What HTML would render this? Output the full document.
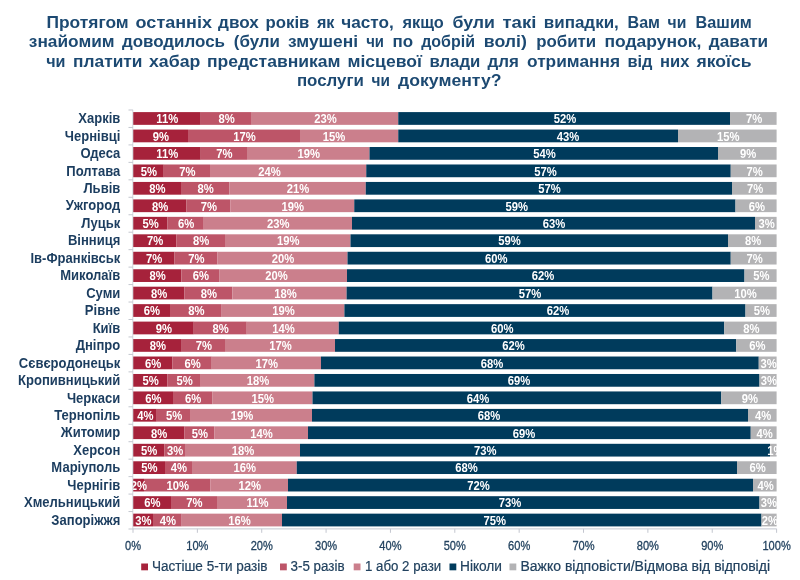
<!DOCTYPE html>
<html lang="uk"><head><meta charset="utf-8"><title>Хабарі представникам місцевої влади</title>
<style>
html,body{margin:0;padding:0;background:#fff}
body{width:800px;height:580px;overflow:hidden}
svg{display:block;font-family:"Liberation Sans",sans-serif}
.t{font-size:17px;font-weight:bold;fill:#1d4a72;text-anchor:start}
.c{font-size:14.1px;font-weight:bold;fill:#1b3d5f;text-anchor:end}
.d{font-size:12.5px;font-weight:bold;fill:#fff;text-anchor:middle}
.a{font-size:13.5px;fill:#22425f;stroke:#22425f;stroke-width:.3px;text-anchor:middle}
.l{font-size:14px;fill:#22425f;stroke:#22425f;stroke-width:.2px;text-anchor:start}
</style></head><body>
<svg width="800" height="580" viewBox="0 0 800 580">
<defs><filter id="soft" x="0" y="0" width="100%" height="100%"><feGaussianBlur stdDeviation="0.45"/></filter></defs>
<g filter="url(#soft)">
<rect width="800" height="580" fill="#fff"/>
<text class="t" y="27.9"><tspan x="46.5" textLength="82.2" lengthAdjust="spacingAndGlyphs">Протягом</tspan> <tspan x="135.6" textLength="76.4" lengthAdjust="spacingAndGlyphs">останніх</tspan> <tspan x="218.1" textLength="40.7" lengthAdjust="spacingAndGlyphs">двох</tspan> <tspan x="265.6" textLength="43.8" lengthAdjust="spacingAndGlyphs">років</tspan> <tspan x="316.9" textLength="17.5" lengthAdjust="spacingAndGlyphs">як</tspan> <tspan x="341.2" textLength="52.5" lengthAdjust="spacingAndGlyphs">часто,</tspan> <tspan x="402.5" textLength="41.2" lengthAdjust="spacingAndGlyphs">якщо</tspan> <tspan x="452.5" textLength="42.5" lengthAdjust="spacingAndGlyphs">були</tspan> <tspan x="502.5" textLength="33.8" lengthAdjust="spacingAndGlyphs">такі</tspan> <tspan x="543.8" textLength="75.0" lengthAdjust="spacingAndGlyphs">випадки,</tspan> <tspan x="627.5" textLength="32.5" lengthAdjust="spacingAndGlyphs">Вам</tspan> <tspan x="667.5" textLength="18.8" lengthAdjust="spacingAndGlyphs">чи</tspan> <tspan x="695.6" textLength="56.3" lengthAdjust="spacingAndGlyphs">Вашим</tspan></text>
<text class="t" y="47.0"><tspan x="28.8" textLength="85.8" lengthAdjust="spacingAndGlyphs">знайомим</tspan> <tspan x="121.9" textLength="103.1" lengthAdjust="spacingAndGlyphs">доводилось</tspan> <tspan x="233.8" textLength="46.2" lengthAdjust="spacingAndGlyphs">(були</tspan> <tspan x="288.1" textLength="70.0" lengthAdjust="spacingAndGlyphs">змушені</tspan> <tspan x="366.2" textLength="17.8" lengthAdjust="spacingAndGlyphs">чи</tspan> <tspan x="392.5" textLength="20.6" lengthAdjust="spacingAndGlyphs">по</tspan> <tspan x="421.2" textLength="53.8" lengthAdjust="spacingAndGlyphs">добрій</tspan> <tspan x="483.8" textLength="43.1" lengthAdjust="spacingAndGlyphs">волі)</tspan> <tspan x="536.2" textLength="60.0" lengthAdjust="spacingAndGlyphs">робити</tspan> <tspan x="604.4" textLength="96.9" lengthAdjust="spacingAndGlyphs">подарунок,</tspan> <tspan x="708.8" textLength="59.4" lengthAdjust="spacingAndGlyphs">давати</tspan></text>
<text class="t" y="66.8"><tspan x="46.2" textLength="19.3" lengthAdjust="spacingAndGlyphs">чи</tspan> <tspan x="73.1" textLength="69.4" lengthAdjust="spacingAndGlyphs">платити</tspan> <tspan x="149.0" textLength="51.3" lengthAdjust="spacingAndGlyphs">хабар</tspan> <tspan x="206.9" textLength="133.7" lengthAdjust="spacingAndGlyphs">представникам</tspan> <tspan x="347.5" textLength="74.4" lengthAdjust="spacingAndGlyphs">місцевої</tspan> <tspan x="429.4" textLength="50.9" lengthAdjust="spacingAndGlyphs">влади</tspan> <tspan x="487.4" textLength="31.4" lengthAdjust="spacingAndGlyphs">для</tspan> <tspan x="527.0" textLength="93.0" lengthAdjust="spacingAndGlyphs">отримання</tspan> <tspan x="627.5" textLength="25.0" lengthAdjust="spacingAndGlyphs">від</tspan> <tspan x="660.0" textLength="29.4" lengthAdjust="spacingAndGlyphs">них</tspan> <tspan x="696.5" textLength="55.0" lengthAdjust="spacingAndGlyphs">якоїсь</tspan></text>
<text class="t" y="85.7"><tspan x="296.9" textLength="66.9" lengthAdjust="spacingAndGlyphs">послуги</tspan> <tspan x="371.6" textLength="18.4" lengthAdjust="spacingAndGlyphs">чи</tspan> <tspan x="398.1" textLength="103.4" lengthAdjust="spacingAndGlyphs">документу?</tspan></text>
<rect x="133.00" y="112.10" width="67.75" height="12.75" fill="#a6243b"/>
<rect x="200.75" y="112.10" width="51.00" height="12.75" fill="#bd5568"/>
<rect x="251.75" y="112.10" width="146.50" height="12.75" fill="#cb7f8c"/>
<rect x="398.25" y="112.10" width="331.75" height="12.75" fill="#003a5c"/>
<rect x="730.00" y="112.10" width="46.60" height="12.75" fill="#b3b3b5"/>
<rect x="133.00" y="129.56" width="55.00" height="12.75" fill="#a6243b"/>
<rect x="188.00" y="129.56" width="112.00" height="12.75" fill="#bd5568"/>
<rect x="300.00" y="129.56" width="98.25" height="12.75" fill="#cb7f8c"/>
<rect x="398.25" y="129.56" width="279.75" height="12.75" fill="#003a5c"/>
<rect x="678.00" y="129.56" width="98.60" height="12.75" fill="#b3b3b5"/>
<rect x="133.00" y="147.02" width="67.75" height="12.75" fill="#a6243b"/>
<rect x="200.75" y="147.02" width="46.25" height="12.75" fill="#bd5568"/>
<rect x="247.00" y="147.02" width="122.50" height="12.75" fill="#cb7f8c"/>
<rect x="369.50" y="147.02" width="348.50" height="12.75" fill="#003a5c"/>
<rect x="718.00" y="147.02" width="58.60" height="12.75" fill="#b3b3b5"/>
<rect x="133.00" y="164.48" width="30.75" height="12.75" fill="#a6243b"/>
<rect x="163.75" y="164.48" width="46.25" height="12.75" fill="#bd5568"/>
<rect x="210.00" y="164.48" width="156.25" height="12.75" fill="#cb7f8c"/>
<rect x="366.25" y="164.48" width="364.50" height="12.75" fill="#003a5c"/>
<rect x="730.75" y="164.48" width="45.85" height="12.75" fill="#b3b3b5"/>
<rect x="133.00" y="181.94" width="48.00" height="12.75" fill="#a6243b"/>
<rect x="181.00" y="181.94" width="48.25" height="12.75" fill="#bd5568"/>
<rect x="229.25" y="181.94" width="136.50" height="12.75" fill="#cb7f8c"/>
<rect x="365.75" y="181.94" width="366.25" height="12.75" fill="#003a5c"/>
<rect x="732.00" y="181.94" width="44.60" height="12.75" fill="#b3b3b5"/>
<rect x="133.00" y="199.40" width="53.25" height="12.75" fill="#a6243b"/>
<rect x="186.25" y="199.40" width="44.25" height="12.75" fill="#bd5568"/>
<rect x="230.50" y="199.40" width="123.75" height="12.75" fill="#cb7f8c"/>
<rect x="354.25" y="199.40" width="381.25" height="12.75" fill="#003a5c"/>
<rect x="735.50" y="199.40" width="41.10" height="12.75" fill="#b3b3b5"/>
<rect x="133.00" y="216.85" width="34.50" height="12.75" fill="#a6243b"/>
<rect x="167.50" y="216.85" width="36.25" height="12.75" fill="#bd5568"/>
<rect x="203.75" y="216.85" width="148.25" height="12.75" fill="#cb7f8c"/>
<rect x="352.00" y="216.85" width="403.00" height="12.75" fill="#003a5c"/>
<rect x="755.00" y="216.85" width="21.60" height="12.75" fill="#b3b3b5"/>
<rect x="133.00" y="234.31" width="43.25" height="12.75" fill="#a6243b"/>
<rect x="176.25" y="234.31" width="48.75" height="12.75" fill="#bd5568"/>
<rect x="225.00" y="234.31" width="125.50" height="12.75" fill="#cb7f8c"/>
<rect x="350.50" y="234.31" width="377.50" height="12.75" fill="#003a5c"/>
<rect x="728.00" y="234.31" width="48.60" height="12.75" fill="#b3b3b5"/>
<rect x="133.00" y="251.77" width="41.50" height="12.75" fill="#a6243b"/>
<rect x="174.50" y="251.77" width="43.00" height="12.75" fill="#bd5568"/>
<rect x="217.50" y="251.77" width="130.00" height="12.75" fill="#cb7f8c"/>
<rect x="347.50" y="251.77" width="383.25" height="12.75" fill="#003a5c"/>
<rect x="730.75" y="251.77" width="45.85" height="12.75" fill="#b3b3b5"/>
<rect x="133.00" y="269.23" width="48.40" height="12.75" fill="#a6243b"/>
<rect x="181.40" y="269.23" width="38.20" height="12.75" fill="#bd5568"/>
<rect x="219.60" y="269.23" width="127.40" height="12.75" fill="#cb7f8c"/>
<rect x="347.00" y="269.23" width="397.50" height="12.75" fill="#003a5c"/>
<rect x="744.50" y="269.23" width="32.10" height="12.75" fill="#b3b3b5"/>
<rect x="133.00" y="286.69" width="51.30" height="12.75" fill="#a6243b"/>
<rect x="184.30" y="286.69" width="48.10" height="12.75" fill="#bd5568"/>
<rect x="232.40" y="286.69" width="114.20" height="12.75" fill="#cb7f8c"/>
<rect x="346.60" y="286.69" width="365.90" height="12.75" fill="#003a5c"/>
<rect x="712.50" y="286.69" width="64.10" height="12.75" fill="#b3b3b5"/>
<rect x="133.00" y="304.15" width="37.00" height="12.75" fill="#a6243b"/>
<rect x="170.00" y="304.15" width="51.70" height="12.75" fill="#bd5568"/>
<rect x="221.70" y="304.15" width="122.70" height="12.75" fill="#cb7f8c"/>
<rect x="344.40" y="304.15" width="401.10" height="12.75" fill="#003a5c"/>
<rect x="745.50" y="304.15" width="31.10" height="12.75" fill="#b3b3b5"/>
<rect x="133.00" y="321.60" width="60.75" height="12.75" fill="#a6243b"/>
<rect x="193.75" y="321.60" width="53.00" height="12.75" fill="#bd5568"/>
<rect x="246.75" y="321.60" width="92.00" height="12.75" fill="#cb7f8c"/>
<rect x="338.75" y="321.60" width="385.50" height="12.75" fill="#003a5c"/>
<rect x="724.25" y="321.60" width="52.35" height="12.75" fill="#b3b3b5"/>
<rect x="133.00" y="339.06" width="48.75" height="12.75" fill="#a6243b"/>
<rect x="181.75" y="339.06" width="43.25" height="12.75" fill="#bd5568"/>
<rect x="225.00" y="339.06" width="110.00" height="12.75" fill="#cb7f8c"/>
<rect x="335.00" y="339.06" width="401.25" height="12.75" fill="#003a5c"/>
<rect x="736.25" y="339.06" width="40.35" height="12.75" fill="#b3b3b5"/>
<rect x="133.00" y="356.52" width="39.50" height="12.75" fill="#a6243b"/>
<rect x="172.50" y="356.52" width="39.25" height="12.75" fill="#bd5568"/>
<rect x="211.75" y="356.52" width="109.25" height="12.75" fill="#cb7f8c"/>
<rect x="321.00" y="356.52" width="437.75" height="12.75" fill="#003a5c"/>
<rect x="758.75" y="356.52" width="17.85" height="12.75" fill="#b3b3b5"/>
<rect x="133.00" y="373.98" width="34.50" height="12.75" fill="#a6243b"/>
<rect x="167.50" y="373.98" width="33.25" height="12.75" fill="#bd5568"/>
<rect x="200.75" y="373.98" width="113.65" height="12.75" fill="#cb7f8c"/>
<rect x="314.40" y="373.98" width="445.10" height="12.75" fill="#003a5c"/>
<rect x="759.50" y="373.98" width="17.10" height="12.75" fill="#b3b3b5"/>
<rect x="133.00" y="391.44" width="40.00" height="12.75" fill="#a6243b"/>
<rect x="173.00" y="391.44" width="39.20" height="12.75" fill="#bd5568"/>
<rect x="212.20" y="391.44" width="100.30" height="12.75" fill="#cb7f8c"/>
<rect x="312.50" y="391.44" width="408.75" height="12.75" fill="#003a5c"/>
<rect x="721.25" y="391.44" width="55.35" height="12.75" fill="#b3b3b5"/>
<rect x="133.00" y="408.90" width="23.75" height="12.75" fill="#a6243b"/>
<rect x="156.75" y="408.90" width="34.00" height="12.75" fill="#bd5568"/>
<rect x="190.75" y="408.90" width="121.25" height="12.75" fill="#cb7f8c"/>
<rect x="312.00" y="408.90" width="436.00" height="12.75" fill="#003a5c"/>
<rect x="748.00" y="408.90" width="28.60" height="12.75" fill="#b3b3b5"/>
<rect x="133.00" y="426.35" width="51.50" height="12.75" fill="#a6243b"/>
<rect x="184.50" y="426.35" width="29.75" height="12.75" fill="#bd5568"/>
<rect x="214.25" y="426.35" width="93.75" height="12.75" fill="#cb7f8c"/>
<rect x="308.00" y="426.35" width="442.75" height="12.75" fill="#003a5c"/>
<rect x="750.75" y="426.35" width="25.85" height="12.75" fill="#b3b3b5"/>
<rect x="133.00" y="443.81" width="31.50" height="12.75" fill="#a6243b"/>
<rect x="164.50" y="443.81" width="20.50" height="12.75" fill="#bd5568"/>
<rect x="185.00" y="443.81" width="115.00" height="12.75" fill="#cb7f8c"/>
<rect x="300.00" y="443.81" width="470.00" height="12.75" fill="#003a5c"/>
<rect x="770.00" y="443.81" width="6.60" height="12.75" fill="#b3b3b5"/>
<rect x="133.00" y="461.27" width="32.00" height="12.75" fill="#a6243b"/>
<rect x="165.00" y="461.27" width="27.00" height="12.75" fill="#bd5568"/>
<rect x="192.00" y="461.27" width="104.75" height="12.75" fill="#cb7f8c"/>
<rect x="296.75" y="461.27" width="440.25" height="12.75" fill="#003a5c"/>
<rect x="737.00" y="461.27" width="39.60" height="12.75" fill="#b3b3b5"/>
<rect x="133.00" y="478.73" width="11.00" height="12.75" fill="#a6243b"/>
<rect x="144.00" y="478.73" width="66.50" height="12.75" fill="#bd5568"/>
<rect x="210.50" y="478.73" width="77.50" height="12.75" fill="#cb7f8c"/>
<rect x="288.00" y="478.73" width="465.00" height="12.75" fill="#003a5c"/>
<rect x="753.00" y="478.73" width="23.60" height="12.75" fill="#b3b3b5"/>
<rect x="133.00" y="496.19" width="38.00" height="12.75" fill="#a6243b"/>
<rect x="171.00" y="496.19" width="46.00" height="12.75" fill="#bd5568"/>
<rect x="217.00" y="496.19" width="70.00" height="12.75" fill="#cb7f8c"/>
<rect x="287.00" y="496.19" width="472.50" height="12.75" fill="#003a5c"/>
<rect x="759.50" y="496.19" width="17.10" height="12.75" fill="#b3b3b5"/>
<rect x="133.00" y="513.65" width="20.00" height="12.75" fill="#a6243b"/>
<rect x="153.00" y="513.65" width="28.70" height="12.75" fill="#bd5568"/>
<rect x="181.70" y="513.65" width="100.30" height="12.75" fill="#cb7f8c"/>
<rect x="282.00" y="513.65" width="479.50" height="12.75" fill="#003a5c"/>
<rect x="761.50" y="513.65" width="15.10" height="12.75" fill="#b3b3b5"/>
<text class="c" x="120.3" y="123.18" textLength="42.07" lengthAdjust="spacingAndGlyphs">Харків</text>
<text class="d" x="167.28" y="123.28" textLength="21.91" lengthAdjust="spacingAndGlyphs">11%</text>
<text class="d" x="226.75" y="123.28" textLength="16.27" lengthAdjust="spacingAndGlyphs">8%</text>
<text class="d" x="325.50" y="123.28" textLength="22.53" lengthAdjust="spacingAndGlyphs">23%</text>
<text class="d" x="565.00" y="123.28" textLength="22.53" lengthAdjust="spacingAndGlyphs">52%</text>
<text class="d" x="754.20" y="123.28" textLength="16.27" lengthAdjust="spacingAndGlyphs">7%</text>
<text class="c" x="120.3" y="140.64" textLength="55.53" lengthAdjust="spacingAndGlyphs">Чернівці</text>
<text class="d" x="160.90" y="140.74" textLength="16.27" lengthAdjust="spacingAndGlyphs">9%</text>
<text class="d" x="244.50" y="140.74" textLength="22.53" lengthAdjust="spacingAndGlyphs">17%</text>
<text class="d" x="334.00" y="140.74" textLength="22.53" lengthAdjust="spacingAndGlyphs">15%</text>
<text class="d" x="567.90" y="140.74" textLength="22.53" lengthAdjust="spacingAndGlyphs">43%</text>
<text class="d" x="728.20" y="140.74" textLength="22.53" lengthAdjust="spacingAndGlyphs">15%</text>
<text class="c" x="120.3" y="158.10" textLength="39.83" lengthAdjust="spacingAndGlyphs">Одеса</text>
<text class="d" x="167.28" y="158.20" textLength="21.91" lengthAdjust="spacingAndGlyphs">11%</text>
<text class="d" x="224.38" y="158.20" textLength="16.27" lengthAdjust="spacingAndGlyphs">7%</text>
<text class="d" x="308.75" y="158.20" textLength="22.53" lengthAdjust="spacingAndGlyphs">19%</text>
<text class="d" x="544.50" y="158.20" textLength="22.53" lengthAdjust="spacingAndGlyphs">54%</text>
<text class="d" x="748.20" y="158.20" textLength="16.27" lengthAdjust="spacingAndGlyphs">9%</text>
<text class="c" x="120.3" y="175.55" textLength="54.03" lengthAdjust="spacingAndGlyphs">Полтава</text>
<text class="d" x="148.78" y="175.65" textLength="16.27" lengthAdjust="spacingAndGlyphs">5%</text>
<text class="d" x="187.38" y="175.65" textLength="16.27" lengthAdjust="spacingAndGlyphs">7%</text>
<text class="d" x="269.40" y="175.65" textLength="22.53" lengthAdjust="spacingAndGlyphs">24%</text>
<text class="d" x="545.60" y="175.65" textLength="22.53" lengthAdjust="spacingAndGlyphs">57%</text>
<text class="d" x="754.57" y="175.65" textLength="16.27" lengthAdjust="spacingAndGlyphs">7%</text>
<text class="c" x="120.3" y="193.01" textLength="36.83" lengthAdjust="spacingAndGlyphs">Львів</text>
<text class="d" x="157.40" y="193.11" textLength="16.27" lengthAdjust="spacingAndGlyphs">8%</text>
<text class="d" x="205.62" y="193.11" textLength="16.27" lengthAdjust="spacingAndGlyphs">8%</text>
<text class="d" x="298.00" y="193.11" textLength="22.53" lengthAdjust="spacingAndGlyphs">21%</text>
<text class="d" x="549.40" y="193.11" textLength="22.53" lengthAdjust="spacingAndGlyphs">57%</text>
<text class="d" x="755.20" y="193.11" textLength="16.27" lengthAdjust="spacingAndGlyphs">7%</text>
<text class="c" x="120.3" y="210.47" textLength="54.44" lengthAdjust="spacingAndGlyphs">Ужгород</text>
<text class="d" x="160.03" y="210.57" textLength="16.27" lengthAdjust="spacingAndGlyphs">8%</text>
<text class="d" x="208.88" y="210.57" textLength="16.27" lengthAdjust="spacingAndGlyphs">7%</text>
<text class="d" x="292.88" y="210.57" textLength="22.53" lengthAdjust="spacingAndGlyphs">19%</text>
<text class="d" x="516.75" y="210.57" textLength="22.53" lengthAdjust="spacingAndGlyphs">59%</text>
<text class="d" x="756.95" y="210.57" textLength="16.27" lengthAdjust="spacingAndGlyphs">6%</text>
<text class="c" x="120.3" y="227.93" textLength="38.95" lengthAdjust="spacingAndGlyphs">Луцьк</text>
<text class="d" x="150.65" y="228.03" textLength="16.27" lengthAdjust="spacingAndGlyphs">5%</text>
<text class="d" x="186.12" y="228.03" textLength="16.27" lengthAdjust="spacingAndGlyphs">6%</text>
<text class="d" x="278.38" y="228.03" textLength="22.53" lengthAdjust="spacingAndGlyphs">23%</text>
<text class="d" x="554.00" y="228.03" textLength="22.53" lengthAdjust="spacingAndGlyphs">63%</text>
<text class="d" x="766.70" y="228.03" textLength="16.27" lengthAdjust="spacingAndGlyphs">3%</text>
<text class="c" x="120.3" y="245.39" textLength="52.42" lengthAdjust="spacingAndGlyphs">Вінниця</text>
<text class="d" x="155.03" y="245.49" textLength="16.27" lengthAdjust="spacingAndGlyphs">7%</text>
<text class="d" x="201.12" y="245.49" textLength="16.27" lengthAdjust="spacingAndGlyphs">8%</text>
<text class="d" x="288.25" y="245.49" textLength="22.53" lengthAdjust="spacingAndGlyphs">19%</text>
<text class="d" x="509.60" y="245.49" textLength="22.53" lengthAdjust="spacingAndGlyphs">59%</text>
<text class="d" x="753.20" y="245.49" textLength="16.27" lengthAdjust="spacingAndGlyphs">8%</text>
<text class="c" x="120.3" y="262.85" textLength="89.83" lengthAdjust="spacingAndGlyphs">Ів-Франківськ</text>
<text class="d" x="154.15" y="262.95" textLength="16.27" lengthAdjust="spacingAndGlyphs">7%</text>
<text class="d" x="196.50" y="262.95" textLength="16.27" lengthAdjust="spacingAndGlyphs">7%</text>
<text class="d" x="283.00" y="262.95" textLength="22.53" lengthAdjust="spacingAndGlyphs">20%</text>
<text class="d" x="496.25" y="262.95" textLength="22.53" lengthAdjust="spacingAndGlyphs">60%</text>
<text class="d" x="754.57" y="262.95" textLength="16.27" lengthAdjust="spacingAndGlyphs">7%</text>
<text class="c" x="120.3" y="280.30" textLength="60.08" lengthAdjust="spacingAndGlyphs">Миколаїв</text>
<text class="d" x="157.60" y="280.40" textLength="16.27" lengthAdjust="spacingAndGlyphs">8%</text>
<text class="d" x="201.00" y="280.40" textLength="16.27" lengthAdjust="spacingAndGlyphs">6%</text>
<text class="d" x="276.50" y="280.40" textLength="22.53" lengthAdjust="spacingAndGlyphs">20%</text>
<text class="d" x="542.90" y="280.40" textLength="22.53" lengthAdjust="spacingAndGlyphs">62%</text>
<text class="d" x="761.45" y="280.40" textLength="16.27" lengthAdjust="spacingAndGlyphs">5%</text>
<text class="c" x="120.3" y="297.76" textLength="34.15" lengthAdjust="spacingAndGlyphs">Суми</text>
<text class="d" x="159.05" y="297.86" textLength="16.27" lengthAdjust="spacingAndGlyphs">8%</text>
<text class="d" x="208.85" y="297.86" textLength="16.27" lengthAdjust="spacingAndGlyphs">8%</text>
<text class="d" x="285.40" y="297.86" textLength="22.53" lengthAdjust="spacingAndGlyphs">18%</text>
<text class="d" x="530.00" y="297.86" textLength="22.53" lengthAdjust="spacingAndGlyphs">57%</text>
<text class="d" x="745.45" y="297.86" textLength="22.53" lengthAdjust="spacingAndGlyphs">10%</text>
<text class="c" x="120.3" y="315.22" textLength="35.47" lengthAdjust="spacingAndGlyphs">Рівне</text>
<text class="d" x="151.90" y="315.32" textLength="16.27" lengthAdjust="spacingAndGlyphs">6%</text>
<text class="d" x="196.35" y="315.32" textLength="16.27" lengthAdjust="spacingAndGlyphs">8%</text>
<text class="d" x="283.55" y="315.32" textLength="22.53" lengthAdjust="spacingAndGlyphs">19%</text>
<text class="d" x="557.90" y="315.32" textLength="22.53" lengthAdjust="spacingAndGlyphs">62%</text>
<text class="d" x="761.95" y="315.32" textLength="16.27" lengthAdjust="spacingAndGlyphs">5%</text>
<text class="c" x="120.3" y="332.68" textLength="27.66" lengthAdjust="spacingAndGlyphs">Київ</text>
<text class="d" x="163.78" y="332.78" textLength="16.27" lengthAdjust="spacingAndGlyphs">9%</text>
<text class="d" x="220.75" y="332.78" textLength="16.27" lengthAdjust="spacingAndGlyphs">8%</text>
<text class="d" x="283.40" y="332.78" textLength="22.53" lengthAdjust="spacingAndGlyphs">14%</text>
<text class="d" x="502.25" y="332.78" textLength="22.53" lengthAdjust="spacingAndGlyphs">60%</text>
<text class="d" x="751.32" y="332.78" textLength="16.27" lengthAdjust="spacingAndGlyphs">8%</text>
<text class="c" x="120.3" y="350.14" textLength="44.59" lengthAdjust="spacingAndGlyphs">Дніпро</text>
<text class="d" x="157.78" y="350.24" textLength="16.27" lengthAdjust="spacingAndGlyphs">8%</text>
<text class="d" x="203.88" y="350.24" textLength="16.27" lengthAdjust="spacingAndGlyphs">7%</text>
<text class="d" x="280.50" y="350.24" textLength="22.53" lengthAdjust="spacingAndGlyphs">17%</text>
<text class="d" x="513.40" y="350.24" textLength="22.53" lengthAdjust="spacingAndGlyphs">62%</text>
<text class="d" x="757.32" y="350.24" textLength="16.27" lengthAdjust="spacingAndGlyphs">6%</text>
<text class="c" x="120.3" y="367.60" textLength="101.50" lengthAdjust="spacingAndGlyphs">Сєвєродонецьк</text>
<text class="d" x="153.15" y="367.70" textLength="16.27" lengthAdjust="spacingAndGlyphs">6%</text>
<text class="d" x="192.62" y="367.70" textLength="16.27" lengthAdjust="spacingAndGlyphs">6%</text>
<text class="d" x="266.88" y="367.70" textLength="22.53" lengthAdjust="spacingAndGlyphs">17%</text>
<text class="d" x="492.10" y="367.70" textLength="22.53" lengthAdjust="spacingAndGlyphs">68%</text>
<text class="d" x="768.57" y="367.70" textLength="16.27" lengthAdjust="spacingAndGlyphs">3%</text>
<text class="c" x="120.3" y="385.05" textLength="102.27" lengthAdjust="spacingAndGlyphs">Кропивницький</text>
<text class="d" x="150.65" y="385.15" textLength="16.27" lengthAdjust="spacingAndGlyphs">5%</text>
<text class="d" x="184.62" y="385.15" textLength="16.27" lengthAdjust="spacingAndGlyphs">5%</text>
<text class="d" x="258.07" y="385.15" textLength="22.53" lengthAdjust="spacingAndGlyphs">18%</text>
<text class="d" x="519.10" y="385.15" textLength="22.53" lengthAdjust="spacingAndGlyphs">69%</text>
<text class="d" x="768.95" y="385.15" textLength="16.27" lengthAdjust="spacingAndGlyphs">3%</text>
<text class="c" x="120.3" y="402.51" textLength="53.42" lengthAdjust="spacingAndGlyphs">Черкаси</text>
<text class="d" x="153.40" y="402.61" textLength="16.27" lengthAdjust="spacingAndGlyphs">6%</text>
<text class="d" x="193.10" y="402.61" textLength="16.27" lengthAdjust="spacingAndGlyphs">6%</text>
<text class="d" x="262.85" y="402.61" textLength="22.53" lengthAdjust="spacingAndGlyphs">15%</text>
<text class="d" x="477.90" y="402.61" textLength="22.53" lengthAdjust="spacingAndGlyphs">64%</text>
<text class="d" x="749.82" y="402.61" textLength="16.27" lengthAdjust="spacingAndGlyphs">9%</text>
<text class="c" x="120.3" y="419.97" textLength="66.17" lengthAdjust="spacingAndGlyphs">Тернопіль</text>
<text class="d" x="145.28" y="420.07" textLength="16.27" lengthAdjust="spacingAndGlyphs">4%</text>
<text class="d" x="174.25" y="420.07" textLength="16.27" lengthAdjust="spacingAndGlyphs">5%</text>
<text class="d" x="242.10" y="420.07" textLength="22.53" lengthAdjust="spacingAndGlyphs">19%</text>
<text class="d" x="489.10" y="420.07" textLength="22.53" lengthAdjust="spacingAndGlyphs">68%</text>
<text class="d" x="763.20" y="420.07" textLength="16.27" lengthAdjust="spacingAndGlyphs">4%</text>
<text class="c" x="120.3" y="437.43" textLength="59.43" lengthAdjust="spacingAndGlyphs">Житомир</text>
<text class="d" x="159.15" y="437.53" textLength="16.27" lengthAdjust="spacingAndGlyphs">8%</text>
<text class="d" x="199.88" y="437.53" textLength="16.27" lengthAdjust="spacingAndGlyphs">5%</text>
<text class="d" x="261.62" y="437.53" textLength="22.53" lengthAdjust="spacingAndGlyphs">14%</text>
<text class="d" x="524.00" y="437.53" textLength="22.53" lengthAdjust="spacingAndGlyphs">69%</text>
<text class="d" x="764.57" y="437.53" textLength="16.27" lengthAdjust="spacingAndGlyphs">4%</text>
<text class="c" x="120.3" y="454.89" textLength="47.00" lengthAdjust="spacingAndGlyphs">Херсон</text>
<text class="d" x="149.15" y="454.99" textLength="16.27" lengthAdjust="spacingAndGlyphs">5%</text>
<text class="d" x="175.25" y="454.99" textLength="16.27" lengthAdjust="spacingAndGlyphs">3%</text>
<text class="d" x="243.00" y="454.99" textLength="22.53" lengthAdjust="spacingAndGlyphs">18%</text>
<text class="d" x="485.25" y="454.99" textLength="22.53" lengthAdjust="spacingAndGlyphs">73%</text>
<text class="d" x="775.50" y="454.99" textLength="16.27" lengthAdjust="spacingAndGlyphs">1%</text>
<text class="c" x="120.3" y="472.35" textLength="68.93" lengthAdjust="spacingAndGlyphs">Маріуполь</text>
<text class="d" x="149.40" y="472.45" textLength="16.27" lengthAdjust="spacingAndGlyphs">5%</text>
<text class="d" x="179.00" y="472.45" textLength="16.27" lengthAdjust="spacingAndGlyphs">4%</text>
<text class="d" x="244.88" y="472.45" textLength="22.53" lengthAdjust="spacingAndGlyphs">16%</text>
<text class="d" x="466.50" y="472.45" textLength="22.53" lengthAdjust="spacingAndGlyphs">68%</text>
<text class="d" x="757.70" y="472.45" textLength="16.27" lengthAdjust="spacingAndGlyphs">6%</text>
<text class="c" x="120.3" y="489.80" textLength="52.94" lengthAdjust="spacingAndGlyphs">Чернігів</text>
<text class="d" x="138.90" y="489.90" textLength="16.27" lengthAdjust="spacingAndGlyphs">2%</text>
<text class="d" x="177.75" y="489.90" textLength="22.53" lengthAdjust="spacingAndGlyphs">10%</text>
<text class="d" x="249.75" y="489.90" textLength="22.53" lengthAdjust="spacingAndGlyphs">12%</text>
<text class="d" x="478.50" y="489.90" textLength="22.53" lengthAdjust="spacingAndGlyphs">72%</text>
<text class="d" x="765.70" y="489.90" textLength="16.27" lengthAdjust="spacingAndGlyphs">4%</text>
<text class="c" x="120.3" y="507.26" textLength="96.36" lengthAdjust="spacingAndGlyphs">Хмельницький</text>
<text class="d" x="152.40" y="507.36" textLength="16.27" lengthAdjust="spacingAndGlyphs">6%</text>
<text class="d" x="194.50" y="507.36" textLength="16.27" lengthAdjust="spacingAndGlyphs">7%</text>
<text class="d" x="257.50" y="507.36" textLength="21.91" lengthAdjust="spacingAndGlyphs">11%</text>
<text class="d" x="510.00" y="507.36" textLength="22.53" lengthAdjust="spacingAndGlyphs">73%</text>
<text class="d" x="768.95" y="507.36" textLength="16.27" lengthAdjust="spacingAndGlyphs">3%</text>
<text class="c" x="120.3" y="524.72" textLength="68.94" lengthAdjust="spacingAndGlyphs">Запоріжжя</text>
<text class="d" x="143.40" y="524.82" textLength="16.27" lengthAdjust="spacingAndGlyphs">3%</text>
<text class="d" x="167.85" y="524.82" textLength="16.27" lengthAdjust="spacingAndGlyphs">4%</text>
<text class="d" x="239.60" y="524.82" textLength="22.53" lengthAdjust="spacingAndGlyphs">16%</text>
<text class="d" x="494.75" y="524.82" textLength="22.53" lengthAdjust="spacingAndGlyphs">75%</text>
<text class="d" x="769.95" y="524.82" textLength="16.27" lengthAdjust="spacingAndGlyphs">2%</text>
<g stroke="#c3c6cf" stroke-width="1" fill="none">
<path stroke="#d3d6dc" d="M132.8 109.8V528.8"/>
<path d="M132.8 528.9H776.6"/>
<path stroke="#bcc1ca" stroke-width=".9" d="M128.5 110.00H132.8"/>
<path stroke="#bcc1ca" stroke-width=".9" d="M128.5 127.46H132.8"/>
<path stroke="#bcc1ca" stroke-width=".9" d="M128.5 144.92H132.8"/>
<path stroke="#bcc1ca" stroke-width=".9" d="M128.5 162.38H132.8"/>
<path stroke="#bcc1ca" stroke-width=".9" d="M128.5 179.83H132.8"/>
<path stroke="#bcc1ca" stroke-width=".9" d="M128.5 197.29H132.8"/>
<path stroke="#bcc1ca" stroke-width=".9" d="M128.5 214.75H132.8"/>
<path stroke="#bcc1ca" stroke-width=".9" d="M128.5 232.21H132.8"/>
<path stroke="#bcc1ca" stroke-width=".9" d="M128.5 249.67H132.8"/>
<path stroke="#bcc1ca" stroke-width=".9" d="M128.5 267.12H132.8"/>
<path stroke="#bcc1ca" stroke-width=".9" d="M128.5 284.58H132.8"/>
<path stroke="#bcc1ca" stroke-width=".9" d="M128.5 302.04H132.8"/>
<path stroke="#bcc1ca" stroke-width=".9" d="M128.5 319.50H132.8"/>
<path stroke="#bcc1ca" stroke-width=".9" d="M128.5 336.96H132.8"/>
<path stroke="#bcc1ca" stroke-width=".9" d="M128.5 354.42H132.8"/>
<path stroke="#bcc1ca" stroke-width=".9" d="M128.5 371.88H132.8"/>
<path stroke="#bcc1ca" stroke-width=".9" d="M128.5 389.33H132.8"/>
<path stroke="#bcc1ca" stroke-width=".9" d="M128.5 406.79H132.8"/>
<path stroke="#bcc1ca" stroke-width=".9" d="M128.5 424.25H132.8"/>
<path stroke="#bcc1ca" stroke-width=".9" d="M128.5 441.71H132.8"/>
<path stroke="#bcc1ca" stroke-width=".9" d="M128.5 459.17H132.8"/>
<path stroke="#bcc1ca" stroke-width=".9" d="M128.5 476.62H132.8"/>
<path stroke="#bcc1ca" stroke-width=".9" d="M128.5 494.08H132.8"/>
<path stroke="#bcc1ca" stroke-width=".9" d="M128.5 511.54H132.8"/>
<path stroke="#bcc1ca" stroke-width=".9" d="M128.5 529.00H132.8"/>
<path d="M133.00 528.8V532.8"/>
<path d="M197.36 528.8V532.8"/>
<path d="M261.72 528.8V532.8"/>
<path d="M326.08 528.8V532.8"/>
<path d="M390.44 528.8V532.8"/>
<path d="M454.80 528.8V532.8"/>
<path d="M519.16 528.8V532.8"/>
<path d="M583.52 528.8V532.8"/>
<path d="M647.88 528.8V532.8"/>
<path d="M712.24 528.8V532.8"/>
<path d="M776.60 528.8V532.8"/>
</g>
<text class="a" x="133.00" y="550.3" textLength="16.00" lengthAdjust="spacingAndGlyphs">0%</text>
<text class="a" x="197.36" y="550.3" textLength="22.17" lengthAdjust="spacingAndGlyphs">10%</text>
<text class="a" x="261.72" y="550.3" textLength="22.17" lengthAdjust="spacingAndGlyphs">20%</text>
<text class="a" x="326.08" y="550.3" textLength="22.17" lengthAdjust="spacingAndGlyphs">30%</text>
<text class="a" x="390.44" y="550.3" textLength="22.17" lengthAdjust="spacingAndGlyphs">40%</text>
<text class="a" x="454.80" y="550.3" textLength="22.17" lengthAdjust="spacingAndGlyphs">50%</text>
<text class="a" x="519.16" y="550.3" textLength="22.17" lengthAdjust="spacingAndGlyphs">60%</text>
<text class="a" x="583.52" y="550.3" textLength="22.17" lengthAdjust="spacingAndGlyphs">70%</text>
<text class="a" x="647.88" y="550.3" textLength="22.17" lengthAdjust="spacingAndGlyphs">80%</text>
<text class="a" x="712.24" y="550.3" textLength="22.17" lengthAdjust="spacingAndGlyphs">90%</text>
<text class="a" x="776.60" y="550.3" textLength="28.32" lengthAdjust="spacingAndGlyphs">100%</text>
<rect x="141.2" y="563.5" width="6.8" height="6.8" fill="#a6243b"/>
<text class="l" x="152.0" y="571.0" textLength="115.5" lengthAdjust="spacingAndGlyphs">Частіше 5-ти разів</text>
<rect x="280.0" y="563.5" width="6.8" height="6.8" fill="#bd5568"/>
<text class="l" x="290.5" y="571.0" textLength="54.0" lengthAdjust="spacingAndGlyphs">3-5 разів</text>
<rect x="353.7" y="563.5" width="6.8" height="6.8" fill="#cb7f8c"/>
<text class="l" x="365.0" y="571.0" textLength="76.3" lengthAdjust="spacingAndGlyphs">1 або 2 рази</text>
<rect x="449.5" y="563.5" width="6.8" height="6.8" fill="#003a5c"/>
<text class="l" x="460.0" y="571.0" textLength="42.0" lengthAdjust="spacingAndGlyphs">Ніколи</text>
<rect x="509.5" y="563.5" width="6.8" height="6.8" fill="#b3b3b5"/>
<text class="l" x="520.5" y="571.0" textLength="249.5" lengthAdjust="spacingAndGlyphs">Важко відповісти/Відмова від відповіді</text>
</g>
</svg></body></html>
